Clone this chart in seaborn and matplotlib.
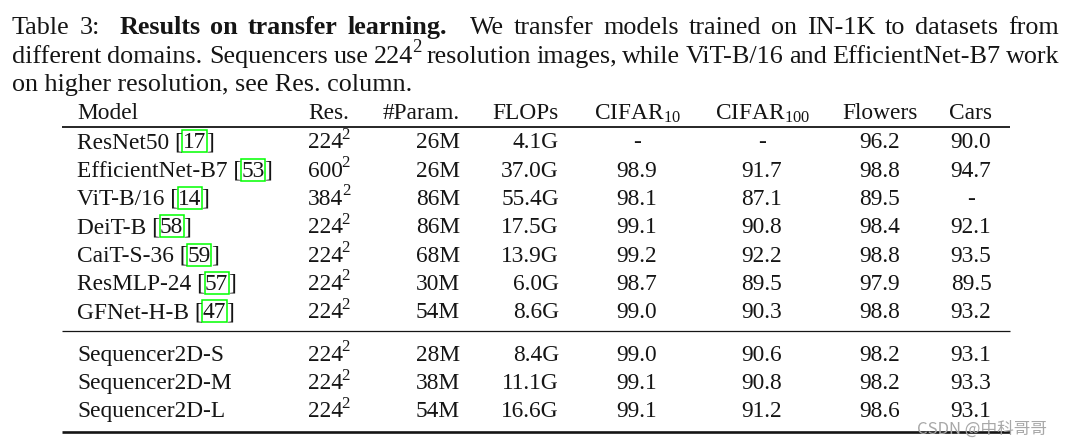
import numpy as np
import pandas as pd
import matplotlib
matplotlib.use("Agg")
import matplotlib.pyplot as plt
import seaborn as sns

sns.set_theme(style="white")
plt.rcParams['font.family'] = ['Liberation Serif', 'DejaVu Serif']
plt.rcParams['mathtext.fontset'] = 'custom'
plt.rcParams['mathtext.rm'] = 'Liberation Serif'
plt.rcParams['mathtext.it'] = 'Liberation Serif:italic'
plt.rcParams['mathtext.bf'] = 'Liberation Serif:bold'

# table data
models = ["ResNet50", "EfficientNet-B7", "ViT-B/16", "DeiT-B", "CaiT-S-36", "ResMLP-24",
          "GFNet-H-B", "Sequencer2D-S", "Sequencer2D-M", "Sequencer2D-L"]
refs = ["17", "53", "14", "58", "59", "57", "47", None, None, None]
res = [224, 600, 384, 224, 224, 224, 224, 224, 224, 224]
params = [26, 26, 86, 86, 68, 30, 54, 28, 38, 54]
flops = [4.1, 37.0, 55.4, 17.5, 13.9, 6.0, 8.6, 8.4, 11.1, 16.6]
cifar10 = [None, 98.9, 98.1, 99.1, 99.2, 98.7, 99.0, 99.0, 99.1, 99.1]
cifar100 = [None, 91.7, 87.1, 90.8, 92.2, 89.5, 90.3, 90.6, 90.8, 91.2]
flowers = [96.2, 98.8, 89.5, 98.4, 98.8, 97.9, 98.8, 98.2, 98.2, 98.6]
cars = [90.0, 94.7, None, 92.1, 93.5, 89.5, 93.2, 93.1, 93.3, 93.1]
headers = ["Model", "Res.", "#Param.", "FLOPs", r"CIFAR$_{10}$", r"CIFAR$_{100}$", "Flowers", "Cars"]

# caption words: (text, weight, stretch after); "224^2" gets a hand-set superscript
caption = [
    [("Table", "normal", 1), ("3:", "normal", 2), ("Results", "bold", 1), ("on", "bold", 1),
     ("transfer", "bold", 1), ("learning.", "bold", 2.3), ("We", "normal", 1), ("transfer", "normal", 1),
     ("models", "normal", 1), ("trained", "normal", 1), ("on", "normal", 1), ("IN-1K", "normal", 1),
     ("to", "normal", 1), ("datasets", "normal", 1), ("from", "normal", 0)],
    [("different", "normal", 1), ("domains.", "normal", 1.4), ("Sequencers", "normal", 1), ("use", "normal", 1),
     ("224^2", "normal", 1), ("resolution", "normal", 1), ("images,", "normal", 1), ("while", "normal", 1),
     ("ViT-B/16", "normal", 1), ("and", "normal", 1), ("EfficientNet-B7", "normal", 1), ("work", "normal", 0)],
]
caption_last = "on higher resolution, see Res. column."

df = pd.DataFrame(dict(model=models, ref=refs, res=res, params=params, flops=flops,
                       cifar10=cifar10, cifar100=cifar100, flowers=flowers, cars=cars))

FS = 16.8
FS_CAP = 18.8
INK = "#151515"
W, H = 1080, 447

fig = plt.figure(figsize=(W / 100, H / 100), dpi=100)
ax = fig.add_axes([0, 0, 1, 1])
ax.set_xlim(0, W)
ax.set_ylim(H, 0)
ax.axis("off")
rend = fig.canvas.get_renderer()


def width(t):
    return t.get_window_extent(rend).width


def word(x, y, s, fs, wt="normal"):
    # returns list of (text obj, dx) parts; superscripts are drawn smaller and raised
    if "^" in s:
        base, sup = s.split("^")
        t1 = ax.text(x, y, base, fontsize=fs, fontweight=wt, color=INK, va="baseline")
        w1 = width(t1) - 1.2
        t2 = ax.text(x + w1, y - 0.56 * fs, sup, fontsize=0.72 * fs, fontweight=wt, color=INK,
                     va="baseline")
        return [(t1, 0), (t2, w1)], w1 + width(t2)
    t = ax.text(x, y, s, fontsize=fs, fontweight=wt, color=INK, va="baseline")
    return [(t, 0)], width(t)


def place(parts, x):
    for t, dx in parts:
        t.set_x(x + dx)


# caption, justified like the paper
cap_y = [34.3, 62.8, 91.1]
x_left, x_right = 12, 1059
for line, y in zip(caption, cap_y):
    built = [word(x_left, y, w, FS_CAP, wt) for w, wt, _ in line]
    ws = [b[1] for b in built]
    gw = [g for _, _, g in line]
    unit = (x_right - x_left - sum(ws)) / sum(gw)
    x = x_left
    for (parts, w_), g in zip(built, gw):
        place(parts, x)
        x += w_ + unit * g
ax.text(x_left, cap_y[2], caption_last, fontsize=FS_CAP, color=INK, va="baseline")

# column layout
col_x = [77, 329, 460, 559, 637, 762, 880, 971]
col_ha = ["left", "center", "right", "right", "center", "center", "center", "center"]
header_y = 119.3
row0_y = 148.3
pitch = 28.3
group_gap = 14.3
rule_x0, rule_x1 = 61.7, 1010

for x, ha, h in zip(col_x, col_ha, headers):
    ax.text(x, header_y, h, ha=ha, va="baseline", fontsize=FS, color=INK)


def cell(x, y, s, ha):
    parts, w = word(x, y, s, FS)
    off = {"left": 0, "center": -w / 2, "right": -w}[ha]
    place(parts, x + off)


def fmt(v):
    return "-" if v is None or (isinstance(v, float) and np.isnan(v)) else f"{v:.1f}"


row_ys = []
for i, r in df.iterrows():
    y = row0_y + i * pitch + (group_gap if i >= 7 else 0)
    row_ys.append(y)
    # model name with green citation box
    if r["ref"] is not None:
        t1 = ax.text(col_x[0], y, r["model"] + " [", va="baseline", fontsize=FS, color=INK)
        x = col_x[0] + width(t1)
        t2 = ax.text(x, y, r["ref"], va="baseline", fontsize=FS, color=INK)
        w2 = width(t2)
        ax.add_patch(plt.Rectangle((x - 0.5, y - 18), w2 + 1, 22, fill=False,
                                   edgecolor="#00ff00", lw=1.1))
        ax.text(x + w2, y, "]", va="baseline", fontsize=FS, color=INK)
    else:
        ax.text(col_x[0], y, r["model"], va="baseline", fontsize=FS, color=INK)
    vals = [f"{r['res']}^2", f"{r['params']}M", f"{r['flops']:.1f}G",
            fmt(r["cifar10"]), fmt(r["cifar100"]), fmt(r["flowers"]), fmt(r["cars"])]
    for x, ha, v in zip(col_x[1:], col_ha[1:], vals):
        cell(x, y, v, ha)

# booktabs rules
ax.hlines(header_y + 8, rule_x0, rule_x1, color=INK, lw=1.3)
ax.hlines(row_ys[6] + 12.8, rule_x0, rule_x1, color=INK, lw=0.9)
ax.hlines(row_ys[-1] + 15, rule_x0, rule_x1, color=INK, lw=1.9)

# watermark
ax.text(1047, 429.5, "CSDN @中科哥哥", ha="right", va="center", fontsize=12,
        color="#a8a8a8", family=["Noto Sans CJK SC", "DejaVu Sans"])

fig.savefig("out.png", dpi=100)
